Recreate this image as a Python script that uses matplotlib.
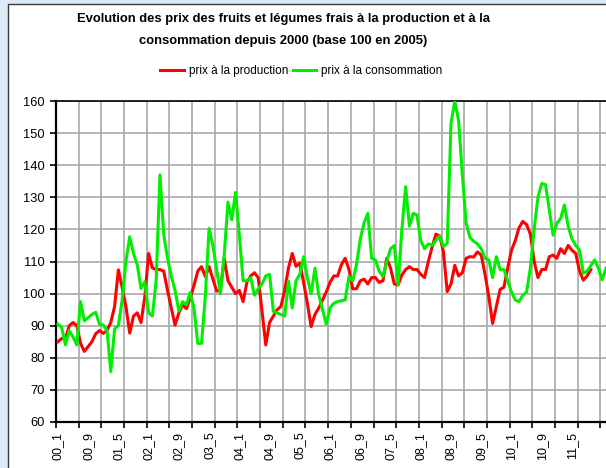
import numpy as np
import matplotlib.pyplot as plt
from matplotlib.patches import Rectangle

plt.rcParams['font.family'] = ['Liberation Sans', 'DejaVu Sans']

# monthly indices, base 100 in 2005, starting January 2000
prod = [85, 86, 86, 90, 91, 90, 84.5, 82, 83.5, 85,
        87.5, 88.5, 87.6, 88.5, 91, 96, 107.4, 102, 96, 87.7,
        93, 94, 91, 99, 112.5, 108, 107.5, 107.5, 107, 101,
        95.5, 90.2, 94, 96.5, 95.3, 98.5, 102.5, 107, 108.4, 105.3,
        108.4, 104.5, 100.8, 101, 111, 104, 102, 100, 101, 97.5,
        103.5, 105.5, 106.5, 105, 94.4, 84, 91, 93, 95, 96,
        101, 108, 112.5, 108.5, 109.5, 103.5, 97, 89.7, 93.5, 95.5,
        98, 100.5, 103.5, 105.5, 105.5, 109, 111, 107.5, 101.5, 101.5,
        104, 104.5, 103, 105, 105, 103.5, 104, 111, 108, 103,
        102.7, 105.8, 107.5, 108.4, 107.5, 107.5, 106, 105, 110, 114.5,
        118.5, 118, 113, 100.6, 103, 108.8, 105.5, 106.5, 111, 111.5,
        111.4, 113, 112, 106, 99, 90.7, 96, 101.3, 102, 108,
        113.5, 116.5, 120.5, 122.5, 121.5, 118.5, 110, 105, 107.5, 107.5,
        111.5, 112, 111, 114, 112.5, 115, 113.5, 112.5, 107, 104.2,
        105.5, 107.5]

conso = [90.5, 89.5, 84, 88.5, 86.5, 84, 97.5, 91.5, 92.5, 93.5,
         94.2, 90.5, 90.2, 88.5, 75.7, 89, 90, 98, 110, 117.7,
         112.5, 109, 101.6, 103.7, 94, 93, 104, 137, 118.5, 111,
         105.5, 101, 94.6, 97.5, 96.5, 100.3, 95.5, 84.5, 84.5, 99,
         120.3, 115, 107.5, 100, 112, 128.5, 123, 131.5, 118.3, 104,
         104, 105, 99.5, 101.5, 103, 105.5, 106, 94.5, 94, 93.5,
         93, 104, 95.5, 104, 106, 111.5, 105, 100, 107.9, 99.6,
         95, 90.5, 95.5, 97, 97.5, 97.8, 98, 105.3, 104, 109,
         117, 122, 125, 111, 110.5, 107, 105.3, 110, 114, 115,
         102.7, 120, 133.3, 121, 125, 124.5, 116.5, 114, 115.5, 115,
         116.5, 118, 114.6, 115.7, 153, 160, 154, 137, 122, 117.5,
         116.3, 115.5, 114, 111, 110.5, 105, 111.5, 107.5, 107.5, 104,
         100.5, 98, 97.5, 99.5, 100.5, 108, 120, 130, 134.3, 134,
         126, 118.2, 121.9, 123.4, 127.6, 121, 117, 115, 113.6, 106.3,
         107, 108.7, 110.5, 107.9, 104.3, 107.9]

n_months = len(conso)
month_labels = ["%02d_%d" % (k // 12, k % 12 + 1) for k in range(n_months)]

fig = plt.figure(figsize=(6.06, 4.68), dpi=100)
fig.patch.set_facecolor('#dce9f6')
fig.patches.append(Rectangle((8 / 606, -0.01), 1, (468 - 4) / 468 + 0.01,
                             transform=fig.transFigure, facecolor='white',
                             edgecolor='#3a3a3a', lw=1.0, zorder=-5))

ax = fig.add_axes([56 / 606, 1 - 422 / 468, 1 - 56 / 606, (422 - 101) / 468])
ax.set_facecolor('white')

x_prod = np.arange(len(prod)) + 0.5
x_conso = np.arange(len(conso)) + 0.5
ax.plot(x_prod, prod, color='#ff0000', lw=2.2, label='prix à la production', zorder=3)
ax.plot(x_conso, conso, color='#00ee00', lw=2.2, label='prix à la consommation', zorder=3)

ax.set_ylim(60, 160)
ax.set_xlim(0, (606 - 56) / 3.78)
ax.set_yticks(range(60, 161, 10))

# grid lines every 6 months, labels every 8 months
ax.set_xticks(np.arange(0, 150, 6))
ax.set_xticklabels([])
lab_pos = np.arange(0, 137, 8)
ax.set_xticks(lab_pos + 0.5, minor=True)
ax.set_xticklabels([month_labels[k] for k in lab_pos], minor=True, rotation=90)

ax.grid(True, which='major', color='#a8a8a8', lw=1.2)
ax.set_axisbelow(True)
ax.tick_params(axis='x', which='major', length=4.5, width=1.2, color='black', direction='out')
ax.tick_params(axis='x', which='minor', length=0, pad=7, labelsize=9)
ax.tick_params(axis='y', length=4.3, width=1.2, pad=4, labelsize=9.3)

for s in ['left', 'bottom']:
    ax.spines[s].set_linewidth(1.6)
ax.spines['top'].set_linewidth(1.2)
ax.spines['right'].set_visible(False)

fig.text(0.467, 1 - 19 / 468, "Evolution des prix des fruits et légumes frais à la production et à la",
         ha='center', va='center', fontsize=9.4, fontweight='bold')
fig.text(0.467, 1 - 41 / 468, "consommation depuis 2000 (base 100 en 2005)",
         ha='center', va='center', fontsize=9.4, fontweight='bold')

fig.legend(loc='center', bbox_to_anchor=(0.497, 1 - 71 / 468), ncol=2, frameon=False,
           fontsize=8.5, handlelength=2.0, handletextpad=0.4, columnspacing=0.4)

fig.savefig('out.png', dpi=100, facecolor=fig.get_facecolor())
